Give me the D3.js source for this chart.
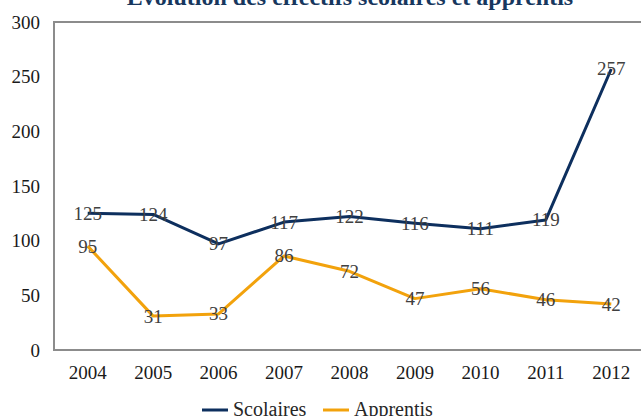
<!DOCTYPE html>
<html lang="fr">
<head>
<meta charset="UTF-8">
<title>Évolution des effectifs scolaires et apprentis</title>
<script src="https://d3js.org/d3.v7.min.js"></script>
<style>
  body { margin: 0; background: #fff; }
  svg text { font-family: "Liberation Serif", "DejaVu Serif", serif; }
</style>
</head>
<body>
<div id="chart"></div>
<script>
// données
const years = ["2004", "2005", "2006", "2007", "2008", "2009", "2010", "2011", "2012"];
const scolaires = [125, 124, 97, 117, 122, 116, 111, 119, 257];
const apprentis = [95, 31, 33, 86, 72, 47, 56, 46, 42];
const yTicks = [0, 50, 100, 150, 200, 250, 300];
const seriesNames = ["Scolaires", "Apprentis"];
const colors = ["#0d2f5e", "#f2a20c"];

const W = 641, H = 416;
const margin = { top: 22, right: -3, bottom: 66, left: 55 };

const svg = d3.select("#chart").append("svg")
  .attr("width", W).attr("height", H);

const x = d3.scaleBand()
  .domain(years)
  .range([margin.left, W - margin.right])
  .padding(0);

const y = d3.scaleLinear()
  .domain([0, 300])
  .range([H - margin.bottom, margin.top]);

// titre (coupé en haut)
svg.append("text")
  .attr("x", 350).attr("y", 5)
  .attr("text-anchor", "middle")
  .attr("font-size", 24)
  .attr("font-weight", "bold")
  .attr("fill", "#17375e")
  .text("Évolution des effectifs scolaires et apprentis");

// cadre
svg.append("path")
  .attr("d", `M${W + 5},${y(300)} H${margin.left - 1} V${y(0)} H${W + 5}`)
  .attr("fill", "none")
  .attr("stroke", "#8c8c8c")
  .attr("stroke-width", 2);

// axe Y
const yAxis = svg.append("g")
  .attr("transform", `translate(${margin.left - 1},0)`)
  .call(d3.axisLeft(y).tickValues(yTicks).tickSize(0).tickPadding(14));
yAxis.select(".domain").remove();
yAxis.selectAll("text")
  .attr("font-size", 19)
  .attr("fill", "#1a1a1a");

// axe X
const xAxis = svg.append("g")
  .attr("transform", `translate(0,${y(0)})`)
  .call(d3.axisBottom(x).tickSize(0).tickPadding(16));
xAxis.select(".domain").remove();
xAxis.selectAll("text")
  .attr("font-size", 19)
  .attr("fill", "#1a1a1a");

const cx = d => x(d) + x.bandwidth() / 2;
const line = d3.line()
  .x((d, i) => cx(years[i]))
  .y(d => y(d));

[scolaires, apprentis].forEach((vals, s) => {
  svg.append("path")
    .datum(vals)
    .attr("d", line)
    .attr("fill", "none")
    .attr("stroke", colors[s])
    .attr("stroke-width", 3)
    .attr("stroke-linejoin", "round");

  svg.append("g").selectAll("text")
    .data(vals)
    .join("text")
    .attr("x", (d, i) => cx(years[i]))
    .attr("y", d => y(d))
    .attr("dy", "0.34em")
    .attr("text-anchor", "middle")
    .attr("font-size", 19)
    .attr("fill", "#404040")
    .text(d => d);
});

// légende
const legend = svg.append("g").attr("transform", "translate(202,410)");
const items = [0, 121];
seriesNames.forEach((name, i) => {
  const g = legend.append("g").attr("transform", `translate(${items[i]},0)`);
  g.append("line")
    .attr("x1", 0).attr("x2", 26)
    .attr("stroke", colors[i]).attr("stroke-width", 3);
  g.append("text")
    .attr("x", 31).attr("y", 6)
    .attr("font-size", 20)
    .attr("fill", "#262626")
    .text(name);
});
</script>
</body>
</html>
